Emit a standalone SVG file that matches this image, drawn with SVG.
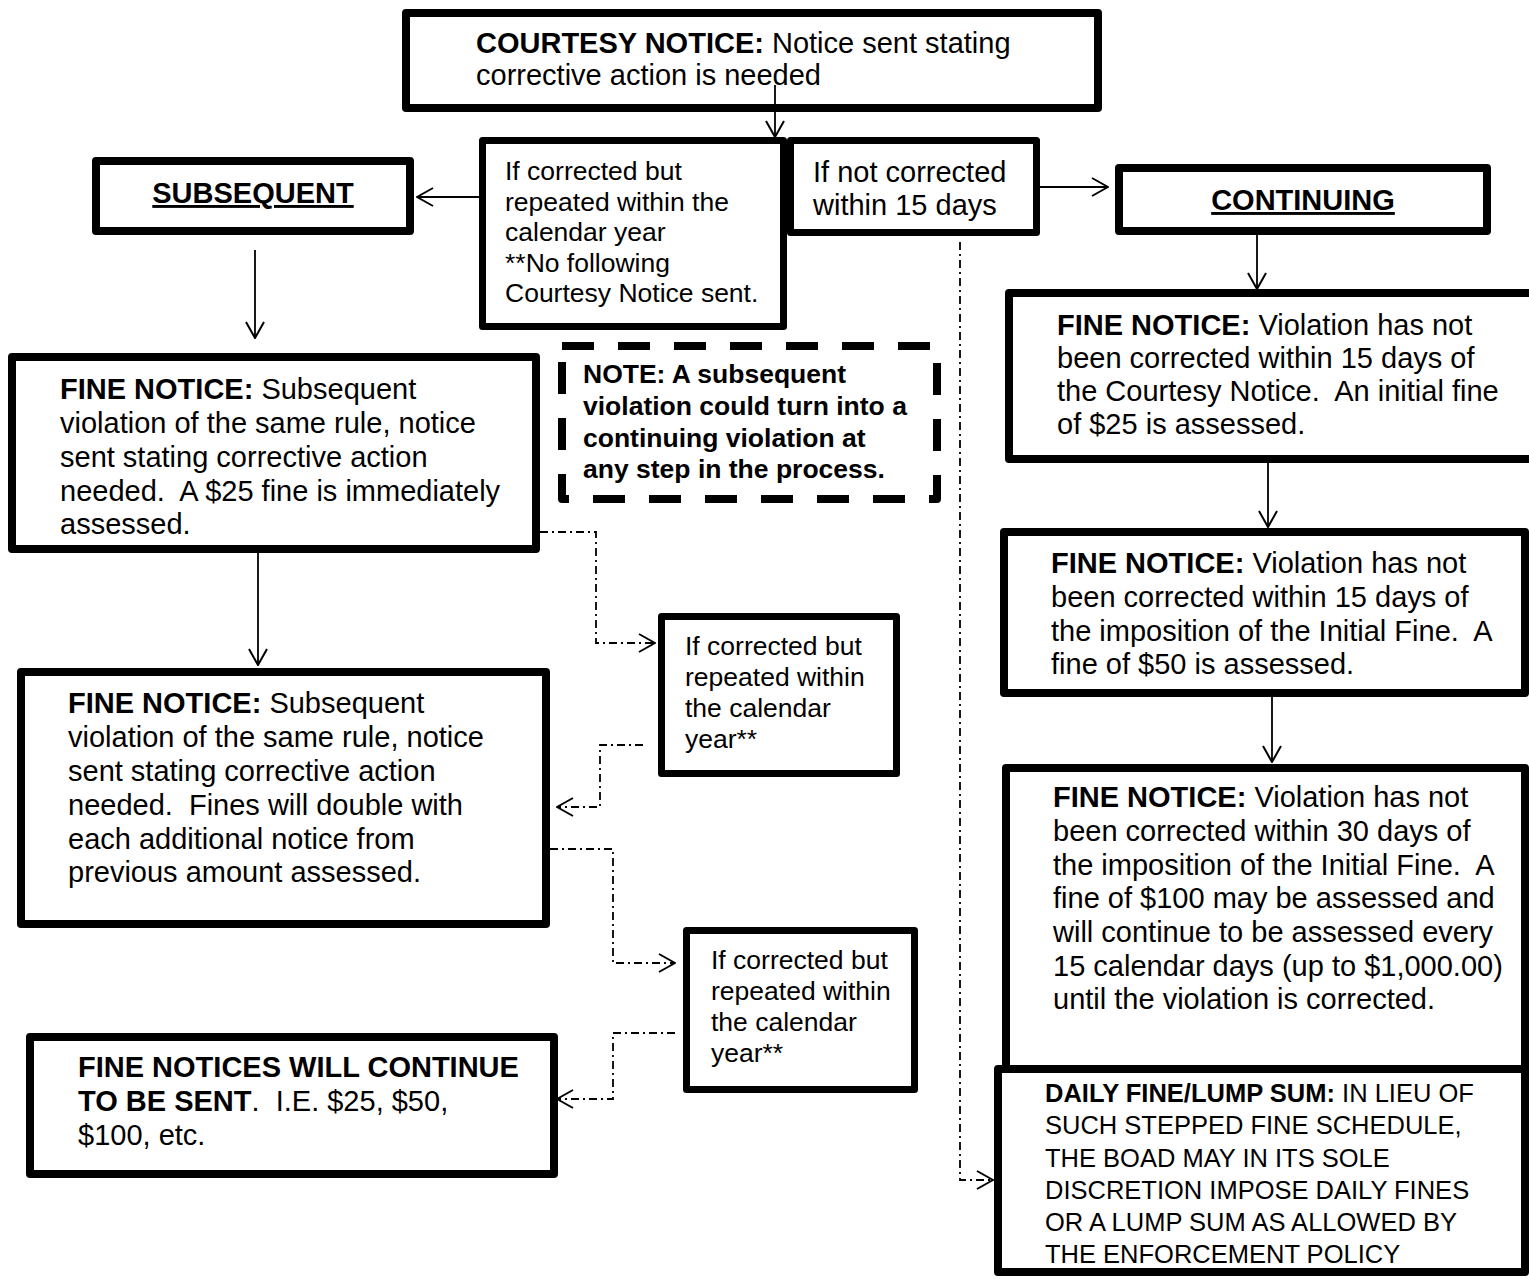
<svg xmlns="http://www.w3.org/2000/svg" width="1529" height="1279" viewBox="0 0 1529 1279">
<style>
text{font-family:"Liberation Sans",Arial,sans-serif;fill:#000;white-space:pre}
.t29{font-size:29px}
.t26{font-size:26.5px}
.t25{font-size:25.5px}
.b{font-weight:bold}
.box{fill:#fff;stroke:#000;stroke-width:8;stroke-linejoin:round}
.box7{fill:#fff;stroke:#000;stroke-width:7;stroke-linejoin:round}
.dash{fill:#fff;stroke:#000;stroke-width:8;stroke-dasharray:32,24;stroke-linejoin:round}
.ln{fill:none;stroke:#000;stroke-width:1.8}
.dd{fill:none;stroke:#000;stroke-width:1.8;stroke-dasharray:8,4,2,4}
</style>
<defs>
<marker id="ah" viewBox="0 0 18 20" refX="17" refY="10" markerWidth="18" markerHeight="20" markerUnits="userSpaceOnUse" orient="auto">
<path d="M1,1 L17,10 L1,19" fill="none" stroke="#000" stroke-width="2"/>
</marker>
</defs>
<g id="courtesy">
<rect class="box" x="406" y="13" width="692" height="95"/>
<text class="t29" x="476" y="53"><tspan class="b">COURTESY NOTICE:</tspan> Notice sent stating</text>
<text class="t29" x="476" y="85">corrective action is needed</text>
</g>
<g id="ifcorrected">
<rect class="box7" x="482.5" y="140.5" width="301" height="186"/>
<text class="t26" x="505" y="180">If corrected but</text>
<text class="t26" x="505" y="210.5">repeated within the</text>
<text class="t26" x="505" y="241">calendar year</text>
<text class="t26" x="505" y="271.5">**No following</text>
<text class="t26" x="505" y="302">Courtesy Notice sent.</text>
</g>
<g id="ifnot">
<rect class="box7" x="790.5" y="140.5" width="246" height="92"/>
<text class="t29" x="813" y="182">If not corrected</text>
<text class="t29" x="813" y="215">within 15 days</text>
</g>
<g id="subsequent">
<rect class="box" x="96" y="161" width="314" height="70"/>
<text class="t29 b" x="253" y="203" text-anchor="middle" text-decoration="underline">SUBSEQUENT</text>
</g>
<g id="continuing">
<rect class="box" x="1119" y="168" width="368" height="63"/>
<text class="t29 b" x="1303" y="210" text-anchor="middle" text-decoration="underline">CONTINUING</text>
</g>
<g id="note">
<rect class="dash" x="562" y="346" width="375" height="153"/>
<text class="t26 b" x="583" y="383">NOTE: A subsequent</text>
<text class="t26 b" x="583" y="415">violation could turn into a</text>
<text class="t26 b" x="583" y="447">continuing violation at</text>
<text class="t26 b" x="583" y="478">any step in the process.</text>
</g>
<g id="fineL1">
<rect class="box" x="12" y="357" width="524" height="192"/>
<text class="t29" x="60" y="399"><tspan class="b">FINE NOTICE:</tspan> Subsequent</text>
<text class="t29" x="60" y="433">violation of the same rule, notice</text>
<text class="t29" x="60" y="467">sent stating corrective action</text>
<text class="t29" x="60" y="501">needed.  A $25 fine is immediately</text>
<text class="t29" x="60" y="534">assessed.</text>
</g>
<g id="fineL2">
<rect class="box" x="21" y="672" width="525" height="252"/>
<text class="t29" x="68" y="713"><tspan class="b">FINE NOTICE:</tspan> Subsequent</text>
<text class="t29" x="68" y="747">violation of the same rule, notice</text>
<text class="t29" x="68" y="781">sent stating corrective action</text>
<text class="t29" x="68" y="815">needed.  Fines will double with</text>
<text class="t29" x="68" y="849">each additional notice from</text>
<text class="t29" x="68" y="882">previous amount assessed.</text>
</g>
<g id="small1">
<rect class="box7" x="661.5" y="616.5" width="235" height="157"/>
<text class="t26" x="685" y="655">If corrected but</text>
<text class="t26" x="685" y="686">repeated within</text>
<text class="t26" x="685" y="717">the calendar</text>
<text class="t26" x="685" y="748">year**</text>
</g>
<g id="small2">
<rect class="box7" x="686.5" y="930.5" width="228" height="159"/>
<text class="t26" x="711" y="969">If corrected but</text>
<text class="t26" x="711" y="1000">repeated within</text>
<text class="t26" x="711" y="1031">the calendar</text>
<text class="t26" x="711" y="1062">year**</text>
</g>
<g id="fineCont">
<rect class="box" x="30" y="1037" width="524" height="137"/>
<text class="t29 b" x="78" y="1077">FINE NOTICES WILL CONTINUE</text>
<text class="t29" x="78" y="1111"><tspan class="b">TO BE SENT</tspan>.  I.E. $25, $50,</text>
<text class="t29" x="78" y="1145">$100, etc.</text>
</g>
<g id="fineR1">
<rect class="box" x="1009" y="293" width="530" height="166"/>
<text class="t29" x="1057" y="335"><tspan class="b">FINE NOTICE:</tspan> Violation has not</text>
<text class="t29" x="1057" y="368">been corrected within 15 days of</text>
<text class="t29" x="1057" y="401">the Courtesy Notice.  An initial fine</text>
<text class="t29" x="1057" y="434">of $25 is assessed.</text>
</g>
<g id="fineR2">
<rect class="box" x="1004" y="532" width="521" height="161"/>
<text class="t29" x="1051" y="573"><tspan class="b">FINE NOTICE:</tspan> Violation has not</text>
<text class="t29" x="1051" y="607">been corrected within 15 days of</text>
<text class="t29" x="1051" y="641">the imposition of the Initial Fine.  A</text>
<text class="t29" x="1051" y="674">fine of $50 is assessed.</text>
</g>
<g id="fineR3">
<rect class="box" x="1006" y="768" width="519" height="301"/>
<text class="t29" x="1053" y="807"><tspan class="b">FINE NOTICE:</tspan> Violation has not</text>
<text class="t29" x="1053" y="841">been corrected within 30 days of</text>
<text class="t29" x="1053" y="875">the imposition of the Initial Fine.  A</text>
<text class="t29" x="1053" y="908">fine of $100 may be assessed and</text>
<text class="t29" x="1053" y="942">will continue to be assessed every</text>
<text class="t29" x="1053" y="976">15 calendar days (up to $1,000.00)</text>
<text class="t29" x="1053" y="1009">until the violation is corrected.</text>
</g>
<g id="daily">
<rect class="box" x="998" y="1069" width="527" height="203"/>
<text class="t25" x="1045" y="1102"><tspan class="b">DAILY FINE/LUMP SUM:</tspan> IN LIEU OF</text>
<text class="t25" x="1045" y="1134">SUCH STEPPED FINE SCHEDULE,</text>
<text class="t25" x="1045" y="1167">THE BOAD MAY IN ITS SOLE</text>
<text class="t25" x="1045" y="1199">DISCRETION IMPOSE DAILY FINES</text>
<text class="t25" x="1045" y="1231">OR A LUMP SUM AS ALLOWED BY</text>
<text class="t25" x="1045" y="1263">THE ENFORCEMENT POLICY</text>
</g>
<g id="connectors">
<path class="ln" d="M775,85 L775,137" marker-end="url(#ah)"/>
<path class="ln" d="M480,197 L417,197" marker-end="url(#ah)"/>
<path class="ln" d="M1040,187 L1108,187" marker-end="url(#ah)"/>
<path class="ln" d="M255,250 L255,338" marker-end="url(#ah)"/>
<path class="ln" d="M1257,235 L1257,289" marker-end="url(#ah)"/>
<path class="ln" d="M1268,463 L1268,527" marker-end="url(#ah)"/>
<path class="ln" d="M1272,697 L1272,762" marker-end="url(#ah)"/>
<path class="ln" d="M258,553 L258,665" marker-end="url(#ah)"/>
<path class="dd" d="M960,242 L960,1180 L993,1180" marker-end="url(#ah)"/>
<path class="dd" d="M540,532 L596,532 L596,643 L655,643" marker-end="url(#ah)"/>
<path class="dd" d="M643,745 L600,745 L600,807 L557,807" marker-end="url(#ah)"/>
<path class="dd" d="M550,849 L613,849 L613,963 L675,963" marker-end="url(#ah)"/>
<path class="dd" d="M675,1033 L613,1033 L613,1099 L557,1099" marker-end="url(#ah)"/>
</g>
</svg>
